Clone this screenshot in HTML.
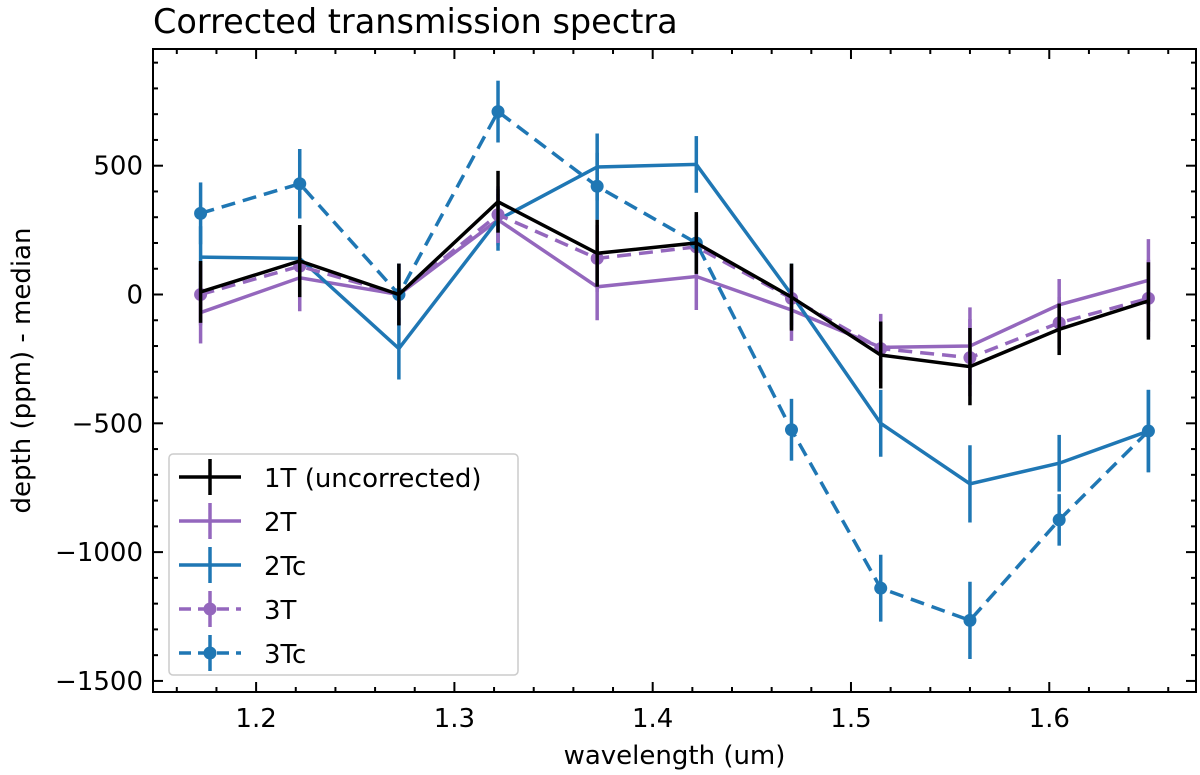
<!DOCTYPE html>
<html><head><meta charset="utf-8"><style>
body{margin:0;background:#fff}
svg{display:block;font-family:"DejaVu Sans","Liberation Sans",sans-serif}
</style></head><body>
<svg id="chart" width="1200" height="775"></svg>
<script>
const xs=[1.172,1.222,1.272,1.322,1.372,1.422,1.47,1.515,1.56,1.605,1.65];
const s1T=[10,130,0,360,160,200,-10,-235,-280,-135,-25];
const e1T=[120,140,120,120,130,120,130,130,150,100,150];
const s2T=[-70,65,0,290,30,70,-60,-205,-200,-40,55];
const e2T=[120,130,120,100,130,130,120,130,150,100,160];
const s2Tc=[145,140,-210,290,495,505,0,-500,-735,-655,-530];
const e2Tc=[120,130,120,120,130,110,120,130,150,110,160];
const s3T=[0,110,0,310,140,185,-15,-210,-245,-110,-15];
const e3T=[120,130,120,110,130,120,120,130,150,100,150];
const s3Tc=[315,430,0,710,420,200,-525,-1140,-1265,-875,-530];
const e3Tc=[120,135,120,120,130,110,120,130,150,100,160];
const xTicks=[1.2,1.3,1.4,1.5,1.6];
const yTicks=[500,0,-500,-1000,-1500];

const NS="http://www.w3.org/2000/svg";
const svg=document.getElementById('chart');
const L=153,R=1196,T=49,B=692;
const x0=1.148,x1=1.674,y0=-1543,y1=953;
const X=v=>L+(v-x0)/(x1-x0)*(R-L);
const Y=v=>B-(v-y0)/(y1-y0)*(B-T);
function mk(tag,attrs,parent){const e=document.createElementNS(NS,tag);for(const k in attrs)e.setAttribute(k,attrs[k]);(parent||svg).appendChild(e);return e;}

let t=mk('text',{x:153,y:33,'font-size':33.5,fill:'#000'});


t.textContent='Corrected transmission spectra';

const tg=mk('g',{stroke:'#000','stroke-width':2});


for(let v=1.16;v<=1.6701;v+=0.02){const px=X(v);const maj=xTicks.some(k=>Math.abs(k-v)<1e-6);const len=maj?10:5;
 mk('line',{x1:px,x2:px,y1:B,y2:B-len},tg);mk('line',{x1:px,x2:px,y1:T,y2:T+len},tg);}
for(let v=-1500;v<=900;v+=100){const py=Y(v);const len=v%500===0?10:5;
 mk('line',{x1:L,x2:L+len,y1:py,y2:py},tg);mk('line',{x1:R,x2:R-len,y1:py,y2:py},tg);}
xTicks.forEach(v=>{const e=mk('text',{x:X(v),y:B+35,'font-size':26,'text-anchor':'middle'});
 
 
 e.textContent=v.toFixed(1);});
yTicks.forEach(v=>{const e=mk('text',{x:L-10,y:Y(v)+9,'font-size':26,'text-anchor':'end'});
 
 
 e.textContent=v<0?'\u2212'+(-v):String(v);});
let xl=mk('text',{x:(L+R)/2,y:764,'font-size':26,'text-anchor':'middle'});


xl.textContent='wavelength (um)';
let yl=mk('text',{x:0,y:0,'font-size':26,'text-anchor':'middle',transform:`translate(30,${(T+B)/2}) rotate(-90)`});


yl.textContent='depth (ppm) - median';

const series=[
 {n:'2T',d:s2T,e:e2T,c:'#9467bd',dash:null,dot:false},
 {n:'2Tc',d:s2Tc,e:e2Tc,c:'#1f77b4',dash:null,dot:false},
 {n:'3T',d:s3T,e:e3T,c:'#9467bd',dash:'14,8',dot:true},
 {n:'3Tc',d:s3Tc,e:e3Tc,c:'#1f77b4',dash:'14,8',dot:true},
 {n:'1T',d:s1T,e:e1T,c:'#000',dash:null,dot:false},
];
series.forEach(s=>{
 const g=mk('g',{});
 
 
 s.d.forEach((v,i)=>{const l=mk('line',{x1:X(xs[i]),x2:X(xs[i]),y1:Y(v-s.e[i]),y2:Y(v+s.e[i]),stroke:s.c,'stroke-width':3.5},g);
  
  });
 const p=mk('polyline',{points:s.d.map((v,i)=>X(xs[i])+','+Y(v)).join(' '),fill:'none',stroke:s.c,'stroke-width':3.5},g);
 if(s.dash)p.setAttribute('stroke-dasharray',s.dash);
 
 
 if(s.dot)s.d.forEach((v,i)=>{const c=mk('circle',{cx:X(xs[i]),cy:Y(v),r:6.5,fill:s.c},g);
  
  });
});

let fr=mk('rect',{x:L,y:T,width:R-L,height:B-T,fill:'none',stroke:'#000','stroke-width':2});



const lg=mk('g',{});


mk('rect',{x:169,y:454,width:349,height:221,rx:4,fill:'#fff','fill-opacity':0.85,stroke:'#ccc','stroke-width':1.5},lg);
const entries=[['1T (uncorrected)','#000',null,false],['2T','#9467bd',null,false],['2Tc','#1f77b4',null,false],['3T','#9467bd','12,7',true],['3Tc','#1f77b4','12,7',true]];
entries.forEach((en,i)=>{const cy=477+i*44;const eg=mk('g',{},lg);
 
 
 const ln=mk('line',{x1:179,x2:241,y1:cy,y2:cy,stroke:en[1],'stroke-width':3.5},eg);if(en[2])ln.setAttribute('stroke-dasharray','12,7');
 mk('line',{x1:210,x2:210,y1:cy-18,y2:cy+18,stroke:en[1],'stroke-width':3.5},eg);
 if(en[3])mk('circle',{cx:210,cy:cy,r:6.5,fill:en[1]},eg);
 const tx=mk('text',{x:264,y:cy+10,'font-size':26},eg);tx.textContent=en[0];});
</script>
</body></html>
